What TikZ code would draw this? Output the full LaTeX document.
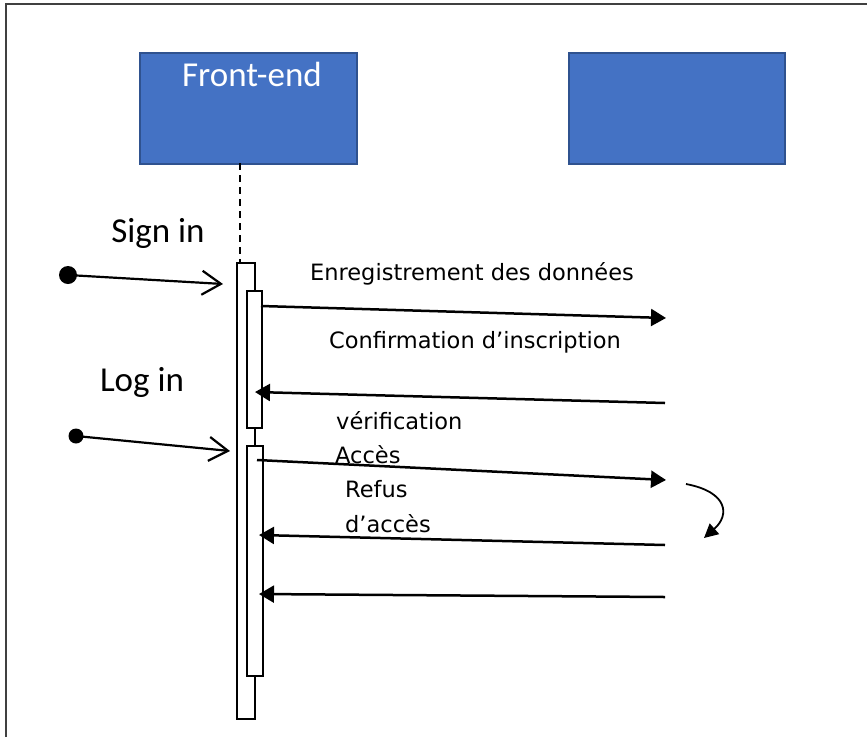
\documentclass[tikz,border=0pt]{standalone}
\usepackage{fontspec}
\setmainfont{DejaVu Sans}
\newfontfamily\calibri{Carlito}
\usetikzlibrary{arrows.meta}
\definecolor{boxblue}{HTML}{4472C4}
\definecolor{boxedge}{HTML}{2F528F}
\definecolor{framegray}{HTML}{404040}

\begin{document}
\begin{tikzpicture}[x=1pt,y=-1pt,
  actor/.style={draw=boxedge, line width=2.2pt, fill=boxblue, inner sep=0pt, anchor=north west},
  bar/.style={draw=black, line width=2pt, fill=white, inner sep=0pt, anchor=north west},
  msg/.style={line width=2.5pt, -{Triangle[length=15pt,width=17pt]}},
  call/.style={line width=2.2pt, -{Straight Barb[length=19pt,width=24pt,line width=2.2pt]}},
  lbl/.style={font=\fontsize{22.5}{33}\selectfont, inner sep=0pt},
  big/.style={font=\calibri\fontsize{35}{40}\selectfont, inner sep=0pt},
  dot/.style={circle, fill=black, inner sep=0pt}]

\useasboundingbox (0,0) rectangle (867,737);

% outer frame (top and left edges)
\coordinate (fbl) at (6,737);
\coordinate (ftl) at (6,4);
\coordinate (ftr) at (867,4);
\draw[framegray, line width=2pt] (fbl) -- (ftl) -- (ftr);

% lifeline heads
\node[actor, minimum width=217pt, minimum height=111pt] (fe) at (139,52) {};
\node[big, text=white, anchor=base] (felbl) at (252,86) {Front-end};
\node[actor, minimum width=216pt, minimum height=111pt] (be) at (568,52) {};

% activation bars
\node[bar, minimum width=18pt, minimum height=456pt] (act) at (236,262) {};
\node[bar, minimum width=15pt, minimum height=137pt] (act1) at (246,290) {};
\node[bar, minimum width=16pt, minimum height=230pt] (act2) at (246,445) {};

% dashed lifeline
\coordinate (llt) at (240,163);
\coordinate (llb) at (240,262);
\draw[line width=1.6pt, dash pattern=on 7pt off 5pt] (llt) -- (llb);

% incoming calls
\node[big, anchor=base] (signin) at (158,242) {Sign in};
\node[dot, minimum size=18pt] (d1) at (68,275) {};
\coordinate (d1e) at (223,284);
\draw[call] (d1.center) -- (d1e);

\node[big, anchor=base] (login) at (142,391) {Log in};
\node[dot, minimum size=15pt] (d2) at (76,436) {};
\coordinate (d2e) at (230,451);
\draw[call] (d2.center) -- (d2e);

% messages
\coordinate (m1a) at (261,306);  \coordinate (m1b) at (666,318);
\coordinate (m2a) at (665,403);  \coordinate (m2b) at (255,392);
\coordinate (m3a) at (257,460);  \coordinate (m3b) at (666,480);
\coordinate (m4a) at (665,545);  \coordinate (m4b) at (259,535);
\coordinate (m5a) at (665,597);  \coordinate (m5b) at (259,594);
\draw[msg] (m1a) -- (m1b);
\draw[msg] (m2a) -- (m2b);
\draw[msg] (m3a) -- (m3b);
\draw[msg] (m4a) -- (m4b);
\draw[msg] (m5a) -- (m5b);

% self call
\coordinate (sca) at (686,484);
\coordinate (scb) at (704,538);
\draw[line width=1.8pt, -{Triangle[length=14pt,width=14pt]}]
  (sca) .. controls (728,492) and (730,515) .. (scb);

% message labels
\node[lbl, anchor=base] (t1) at (472,280) {Enregistrement des données};
\node[lbl, anchor=base] (t2) at (475,348) {Confirmation d’inscription};
\node[lbl, anchor=base west] (t3) at (336,429) {vérification};
\node[lbl, anchor=base west] (t4) at (335,463) {Accès};
\node[lbl, anchor=base west] (t5) at (345,497) {Refus};
\node[lbl, anchor=base west] (t6) at (345,532) {d’accès};
\end{tikzpicture}
\end{document}
